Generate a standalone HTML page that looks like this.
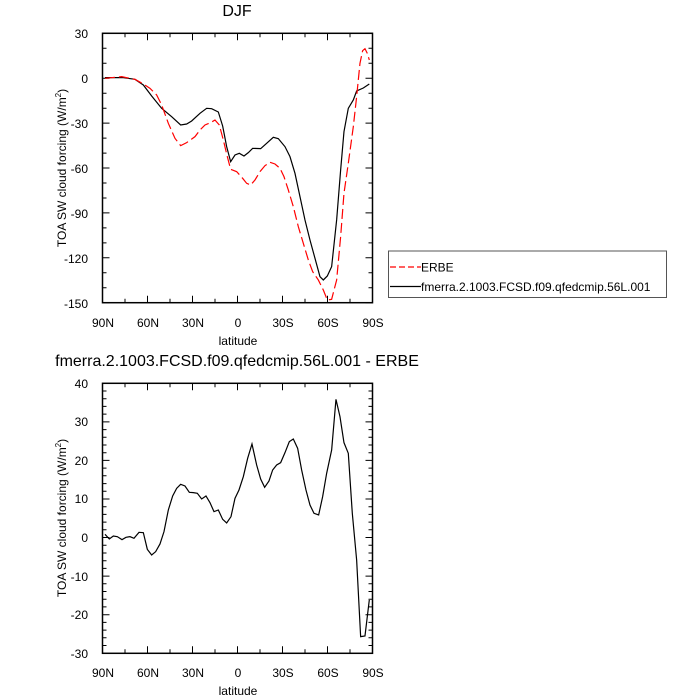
<!DOCTYPE html>
<html><head><style>body{margin:0;background:#fff}svg{display:block}text{font-family:"Liberation Sans",sans-serif;fill:#000}</style></head><body>
<svg width="700" height="700" viewBox="0 0 700 700" xmlns="http://www.w3.org/2000/svg">
<text x="237" y="16" font-size="16" text-anchor="middle">DJF</text>
<rect x="102.5" y="33.3" width="270" height="269.4" fill="none" stroke="#000" stroke-width="1.5"/>
<g stroke="#000" stroke-width="1">
<path d="M102.5,33.3h7M102.5,78.2h7M102.5,123.1h7M102.5,168h7M102.5,212.9h7M102.5,257.8h7M102.5,302.7h7
M372.5,33.3h-7M372.5,78.2h-7M372.5,123.1h-7M372.5,168h-7M372.5,212.9h-7M372.5,257.8h-7M372.5,302.7h-7
M147.5,302.7v-7M192.5,302.7v-7M237.5,302.7v-7M282.5,302.7v-7M327.5,302.7v-7
M147.5,33.3v7M192.5,33.3v7M237.5,33.3v7M282.5,33.3v7M327.5,33.3v7"/>
<path d="M102.5,48.3h4M102.5,63.3h4M102.5,93.2h4M102.5,108.2h4M102.5,138.1h4M102.5,153.1h4M102.5,183h4M102.5,198h4M102.5,227.9h4M102.5,242.9h4M102.5,272.8h4M102.5,287.8h4
M372.5,48.3h-4M372.5,63.3h-4M372.5,93.2h-4M372.5,108.2h-4M372.5,138.1h-4M372.5,153.1h-4M372.5,183h-4M372.5,198h-4M372.5,227.9h-4M372.5,242.9h-4M372.5,272.8h-4M372.5,287.8h-4
M125,302.7v-4M170,302.7v-4M215,302.7v-4M260,302.7v-4M305,302.7v-4M350,302.7v-4
M125,33.3v4M170,33.3v4M215,33.3v4M260,33.3v4M305,33.3v4M350,33.3v4"/>
</g>
<g font-size="12" text-anchor="end">
<text x="88" y="38">30</text><text x="88" y="83">0</text><text x="88" y="128">-30</text><text x="88" y="173">-60</text><text x="88" y="218">-90</text><text x="88" y="263">-120</text><text x="88" y="308">-150</text>
</g>
<g font-size="12" text-anchor="middle">
<text x="103" y="327">90N</text><text x="148" y="327">60N</text><text x="193" y="327">30N</text><text x="238" y="327">0</text><text x="283" y="327">30S</text><text x="328" y="327">60S</text><text x="373" y="327">90S</text>
<text x="238" y="345">latitude</text>
</g>
<text transform="translate(66,168) rotate(-90)" font-size="12" text-anchor="middle">TOA SW cloud forcing (W/m<tspan font-size="8" dy="-5">2</tspan><tspan dy="5">)</tspan></text>
<g transform="translate(90,20) scale(0.3333)" fill="none" stroke-width="3.6">
<polyline stroke="#000" points="45,173 100,173 135,178 160,195 185,228 215,265 245,290 272,315 290,312 305,303 330,280 350,265 365,266 385,276 398,318 410,380 422,425 435,405 448,400 462,408 475,398 488,385 512,386 530,370 550,352 565,356 585,380 600,410 615,460 630,530 645,600 660,660 675,715 690,770 700,780 712,768 725,740 740,600 752,450 762,335 775,265 790,240 800,213 820,204 838,192"/>
<polyline stroke="#f00" stroke-dasharray="30,12" points="45,175 95,170 135,178 160,192 180,205 200,225 215,255 235,310 255,355 272,377 290,368 315,350 330,330 345,315 362,308 375,300 388,315 400,360 412,410 422,448 440,455 458,475 470,490 482,495 495,480 510,455 525,437 540,427 555,432 570,445 582,470 595,510 610,560 625,620 640,670 655,720 668,755 685,780 700,810 712,840 725,838 740,780 752,650 762,520 775,430 790,320 800,230 810,130 818,92 825,86 832,100 838,120"/>
</g>
<rect x="388.5" y="251" width="278" height="46.5" fill="none" stroke="#555" stroke-width="1"/>
<line x1="390" y1="267" x2="421" y2="267" stroke="#f00" stroke-dasharray="6,3" stroke-width="1.2"/>
<line x1="390" y1="286.5" x2="421" y2="286.5" stroke="#000" stroke-width="1.2"/>
<text x="421" y="271.5" font-size="12">ERBE</text>
<text x="421" y="291" font-size="12">fmerra.2.1003.FCSD.f09.qfedcmip.56L.001</text>

<text x="237" y="366" font-size="16" text-anchor="middle">fmerra.2.1003.FCSD.f09.qfedcmip.56L.001 - ERBE</text>
<rect x="102.5" y="383.3" width="270" height="270" fill="none" stroke="#000" stroke-width="1.5"/>
<g stroke="#000" stroke-width="1">
<path d="M102.5,421.9h7M102.5,460.4h7M102.5,499h7M102.5,537.5h7M102.5,576.1h7M102.5,614.7h7
M372.5,421.9h-7M372.5,460.4h-7M372.5,499h-7M372.5,537.5h-7M372.5,576.1h-7M372.5,614.7h-7
M147.5,653.3v-7M192.5,653.3v-7M237.5,653.3v-7M282.5,653.3v-7M327.5,653.3v-7
M147.5,383.3v7M192.5,383.3v7M237.5,383.3v7M282.5,383.3v7M327.5,383.3v7
M125,653.3v-4M170,653.3v-4M215,653.3v-4M260,653.3v-4M305,653.3v-4M350,653.3v-4
M125,383.3v4M170,383.3v4M215,383.3v4M260,383.3v4M305,383.3v4M350,383.3v4"/>
<path id="m" d="M102.5,391h4M102.5,398.7h4M102.5,406.4h4M102.5,414.1h4M102.5,429.6h4M102.5,437.3h4M102.5,445h4M102.5,452.7h4M102.5,468.1h4M102.5,475.8h4M102.5,483.6h4M102.5,491.3h4M102.5,506.7h4M102.5,514.4h4M102.5,522.1h4M102.5,529.8h4M102.5,545.2h4M102.5,553h4M102.5,560.7h4M102.5,568.4h4M102.5,583.8h4M102.5,591.5h4M102.5,599.2h4M102.5,606.9h4M102.5,622.4h4M102.5,630.1h4M102.5,637.8h4M102.5,645.5h4"/>
<use href="#m" transform="translate(475,0) scale(-1,1)"/>
</g>
<g font-size="12" text-anchor="end">
<text x="88" y="388">40</text><text x="88" y="426">30</text><text x="88" y="465">20</text><text x="88" y="503">10</text><text x="88" y="542">0</text><text x="88" y="581">-10</text><text x="88" y="619">-20</text><text x="88" y="658">-30</text>
</g>
<g font-size="12" text-anchor="middle">
<text x="103" y="677">90N</text><text x="148" y="677">60N</text><text x="193" y="677">30N</text><text x="238" y="677">0</text><text x="283" y="677">30S</text><text x="328" y="677">60S</text><text x="373" y="677">90S</text>
<text x="238" y="695">latitude</text>
</g>
<text transform="translate(66,518) rotate(-90)" font-size="12" text-anchor="middle">TOA SW cloud forcing (W/m<tspan font-size="8" dy="-5">2</tspan><tspan dy="5">)</tspan></text>
<g transform="translate(90,370) scale(0.3333)" fill="none" stroke-width="3.6">
<polyline stroke="#000" points="45,493 58,507 70,498 82,500 96,509 108,502 120,500 132,505 147,487 160,488 172,538 185,555 197,545 210,522 222,485 235,420 248,378 260,355 272,343 285,348 298,367 310,368 322,370 335,387 348,378 360,398 372,425 385,420 398,448 410,459 423,440 435,385 447,360 460,320 473,265 486,222 500,285 512,327 524,352 537,333 548,300 560,285 572,278 585,248 598,215 610,207 623,235 635,300 648,360 660,405 672,430 686,435 698,380 710,310 725,240 738,88 750,140 762,218 775,250 787,430 800,570 812,800 825,798 838,690"/>
</g>
</svg>
</body></html>
